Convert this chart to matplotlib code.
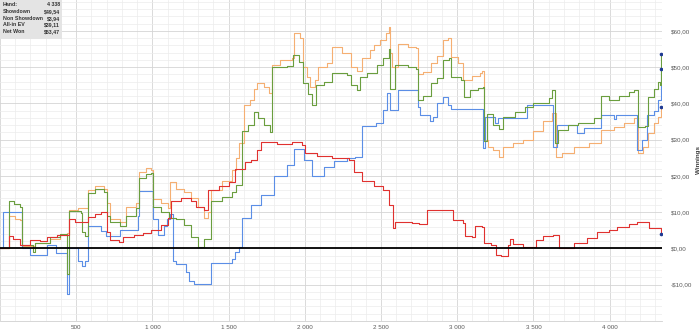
import matplotlib.pyplot as plt
from matplotlib.ticker import MultipleLocator, FuncFormatter
from matplotlib.patches import Rectangle

plt.rcParams['font.family'] = ['Liberation Sans', 'DejaVu Sans']

# hands played / winnings in $ (step points)
red_hands = [0, 60, 85, 130, 200, 265, 310, 375, 450, 495, 575, 625, 660, 705, 725, 780, 810, 880,
             940, 990, 1055, 1100, 1120, 1190, 1255, 1285, 1340, 1365, 1440, 1505, 1540, 1605, 1650,
             1685, 1715, 1815, 1915, 1980, 2000, 2080, 2180, 2290, 2325, 2375, 2455, 2510, 2555, 2580,
             2595, 2705, 2750, 2805, 2950, 2970, 3035, 3050, 3100, 3115, 3160, 3175, 3220, 3255, 3290,
             3335, 3345, 3365, 3430, 3520, 3565, 3630, 3665, 3765, 3850, 3915, 3995, 4050, 4125, 4180,
             4260, 4338]
red_values = [0, 3.3, 2.6, 0.9, 2.4, 2.0, 3.2, 3.6, 8.0, 7.3, 8.6, 9.4, 10.0, 4.5, 2.4, 1.7, 3.0, 3.6,
              4.3, 5.2, 6.4, 8.5, 13.0, 13.8, 13.2, 11.5, 10.5, 16.0, 17.2, 18.2, 22.0, 23.8, 24.5,
              27.0, 29.3, 28.7, 29.3, 28.5, 26.4, 25.5, 24.8, 24.3, 21.0, 18.5, 17.2, 16.2, 12.0, 5.5,
              7.2, 7.0, 6.6, 10.7, 10.7, 7.8, 7.0, 3.4, 3.0, 6.1, 5.8, 1.6, 0.8, -1.8, -2.0,
              0.8, 2.6, 1.2, 0.5, 2.2, 3.4, 3.6, 0.2, 1.4, 2.8, 4.6, 5.0, 5.8, 6.8, 7.4,
              5.5, 3.94]

green_hands = [0, 60, 95, 130, 145, 215, 230, 330, 395, 440, 450, 530, 540, 560, 575, 625, 680, 705,
               725, 790, 825, 890, 910, 955, 990, 1005, 1055, 1110, 1155, 1210, 1255, 1300, 1340, 1385,
               1455, 1520, 1550, 1585, 1630, 1665, 1690, 1730, 1770, 1785, 1880, 1920, 1960, 1990, 2020,
               2045, 2075, 2125, 2180, 2280, 2300, 2345, 2365, 2410, 2475, 2515, 2550, 2560, 2590, 2675,
               2730, 2740, 2775, 2825, 2870, 2905, 2945, 2960, 3025, 3045, 3085, 3135, 3170, 3175, 3195,
               3235, 3275, 3300, 3380, 3445, 3500, 3600, 3620, 3640, 3660, 3730, 3795, 3895, 3945, 3995,
               4060, 4125, 4160, 4185, 4235, 4255, 4290, 4315, 4330, 4338]
green_values = [0, 13.0, 12.2, 11.5, 0.8, -1.0, 1.5, 3.0, 4.0, -7.0, 10.3, 9.8, 4.4, 3.4, 15.4, 16.5,
                15.5, 8.8, 7.2, 6.2, 8.8, 11.0, 19.3, 20.5, 20.8, 11.5, 10.0, 8.5, 8.0, 6.5, 3.0, 0.5,
                2.5, 13.0, 14.2, 15.5, 17.5, 32.5, 34.0, 37.5, 36.0, 34.0, 32.0, 50.0, 50.3, 53.2, 51.5,
                45.5, 42.5, 39.5, 45.0, 46.0, 48.5, 47.8, 45.0, 43.8, 47.3, 48.5, 50.5, 52.5, 55.0, 44.0,
                50.5, 50.0, 49.5, 41.0, 42.0, 45.5, 47.0, 52.0, 52.5, 47.3, 46.5, 41.8, 43.7, 44.3, 44.5,
                29.5, 37.0, 34.0, 33.0, 36.3, 37.5, 39.0, 40.0, 41.5, 43.7, 29.0, 32.7, 34.0, 34.6, 36.0,
                42.0, 41.0, 42.0, 43.0, 43.7, 33.5, 33.8, 41.8, 44.0, 46.0, 45.0, 53.47]

blue_hands = [0, 20, 145, 200, 310, 365, 440, 450, 515, 540, 555, 575, 660, 695, 790, 905, 910, 1005,
              1035, 1075, 1095, 1115, 1135, 1155, 1220, 1240, 1275, 1385, 1520, 1540, 1565, 1585, 1650,
              1715, 1795, 1880, 1930, 1995, 2045, 2125, 2190, 2280, 2330, 2375, 2465, 2510, 2540, 2560,
              2610, 2740, 2755, 2820, 2840, 2870, 2905, 2940, 2960, 3170, 3185, 3250, 3270, 3455, 3630,
              3655, 3785, 3830, 3945, 4030, 4040, 4180, 4215, 4245, 4290, 4320, 4338]
blue_values = [0, 9.9, 0.0, -1.9, 0.9, -1.2, -12.6, 0.0, -3.5, -4.8, -3.6, 6.1, 4.8, 3.3, 5.2, 8.9,
               15.8, 8.0, 3.8, 6.1, 8.0, 9.5, -3.5, -4.4, -6.6, -9.0, -9.9, -3.9, -3.0, -1.1, 0.3, 8.5,
               12.0, 14.8, 20.0, 23.0, 27.5, 24.5, 20.0, 22.5, 24.0, 24.8, 25.3, 33.8, 34.6, 38.2, 42.8,
               38.2, 43.7, 39.0, 36.8, 35.0, 36.3, 40.0, 41.8, 39.6, 38.5, 27.7, 36.3, 34.6, 36.0, 39.6,
               28.0, 34.0, 31.8, 33.2, 36.8, 35.8, 36.8, 27.2, 30.0, 36.8, 38.0, 41.0, 49.54]

orange_hands = [0, 60, 100, 130, 145, 230, 330, 395, 440, 450, 515, 575, 625, 680, 700, 725, 790, 825,
                890, 910, 955, 990, 1005, 1055, 1100, 1115, 1155, 1210, 1255, 1300, 1340, 1365, 1385,
                1455, 1520, 1550, 1570, 1600, 1640, 1665, 1685, 1730, 1765, 1785, 1835, 1915, 1930, 1970,
                1990, 2015, 2035, 2065, 2085, 2145, 2180, 2245, 2285, 2300, 2345, 2375, 2425, 2455, 2495,
                2535, 2550, 2560, 2575, 2610, 2675, 2730, 2740, 2775, 2825, 2870, 2905, 2940, 2960, 3005,
                3035, 3100, 3150, 3165, 3175, 3205, 3235, 3275, 3300, 3365, 3430, 3500, 3565, 3620, 3645,
                3685, 3765, 3865, 3945, 4030, 4095, 4160, 4185, 4220, 4255, 4290, 4320, 4338]
orange_values = [0, 9.0, 8.0, 7.7, 0.6, 1.5, 2.5, 3.8, 4.3, 10.7, 11.2, 16.0, 17.2, 16.5, 12.5, 8.0,
                 7.2, 11.5, 12.6, 21.0, 22.2, 21.5, 13.5, 12.5, 11.0, 18.2, 16.5, 15.5, 14.0, 11.5, 8.5,
                 10.0, 16.2, 18.5, 21.7, 25.0, 29.0, 39.6, 41.0, 44.0, 45.6, 44.5, 42.8, 50.5, 52.0, 52.5,
                 59.3, 58.0, 50.0, 47.3, 44.5, 46.4, 50.0, 51.0, 55.5, 54.0, 53.8, 50.0, 49.0, 52.5, 54.7,
                 56.0, 57.4, 59.5, 61.0, 53.8, 50.0, 56.5, 55.5, 55.2, 48.0, 48.6, 51.0, 53.0, 57.4, 57.9,
                 52.7, 51.0, 46.4, 47.5, 48.3, 49.0, 30.0, 28.0, 27.0, 25.3, 28.0, 29.0, 30.0, 32.5, 35.0,
                 37.4, 25.3, 26.4, 28.0, 29.0, 32.7, 33.5, 34.5, 36.0, 26.4, 28.0, 31.8, 34.6, 36.3, 39.11]

summary_labels = ['Hand:', 'Showdown', 'Non Showdown', 'All-in EV', 'Net Won']
summary_values = ['4 338', '$49,54', '$3,94', '$39,11', '$53,47']

fig = plt.figure(figsize=(7, 3.36), dpi=100)
ax = fig.add_axes([0.0, 0.045, 0.946, 0.955])

ax.step(orange_hands, orange_values, where='post', color='#F5AF72', lw=0.8)
ax.step(blue_hands, blue_values, where='post', color='#5B8EE6', lw=0.8)
ax.step(green_hands, green_values, where='post', color='#6A9E3E', lw=0.8)
ax.step(red_hands, red_values, where='post', color='#E0312F', lw=0.8)
for hands, values in [(orange_hands, orange_values), (blue_hands, blue_values),
                      (green_hands, green_values), (red_hands, red_values)]:
    ax.plot(hands[-1], values[-1], 'o', ms=1.6, color='#1F3A93', zorder=5)
ax.axhline(0, color='black', lw=1.3, zorder=4)

ax.set_xlim(0, 4345)
ax.set_ylim(-20, 68.5)
ax.xaxis.set_major_locator(MultipleLocator(500))
ax.xaxis.set_minor_locator(MultipleLocator(100))
ax.yaxis.set_major_locator(MultipleLocator(10))
ax.yaxis.set_minor_locator(MultipleLocator(2))
ax.xaxis.set_major_formatter(FuncFormatter(
    lambda v, p: '' if v <= 0 else f'{int(v):,}'.replace(',', ' ')))
ax.yaxis.set_major_formatter(FuncFormatter(
    lambda v, p: '' if v < -15 else (f'${v:.0f},00' if v >= 0 else f'-${-v:.0f},00')))
ax.yaxis.tick_right()
ax.yaxis.set_label_position('right')
ax.set_ylabel('Winnings', fontsize=4.5, fontweight='bold', labelpad=3, color='#404040')
ax.tick_params(which='both', length=0, labelsize=4.5, labelcolor='#595959')
ax.tick_params(axis='y', pad=6)
ax.tick_params(axis='x', pad=3)
ax.grid(which='major', color='#d4d4d4', lw=0.6)
ax.grid(which='minor', color='#ececec', lw=0.5)
ax.set_axisbelow(True)
for side in ['left', 'top', 'right']:
    ax.spines[side].set_visible(False)
ax.spines['bottom'].set_color('#d0d0d0')
ax.spines['bottom'].set_linewidth(0.6)

# summary box in the top-left corner
W, H = 700, 336
fig.patches.append(Rectangle((0, 1 - 39 / H), 62 / W, 39 / H, transform=fig.transFigure,
                             facecolor='#e4e4e4', edgecolor='none', zorder=10))
for i, (label, value) in enumerate(zip(summary_labels, summary_values)):
    y = 1 - (5 + 6.6 * i) / H
    fig.text(3 / W, y, label, fontsize=3.8, fontweight='bold', color='#333333',
             va='center', ha='left', zorder=11)
    fig.text(60 / W, y, value, fontsize=3.8, fontweight='bold', color='#333333',
             va='center', ha='right', zorder=11)

fig.savefig('out.png', dpi=100)
